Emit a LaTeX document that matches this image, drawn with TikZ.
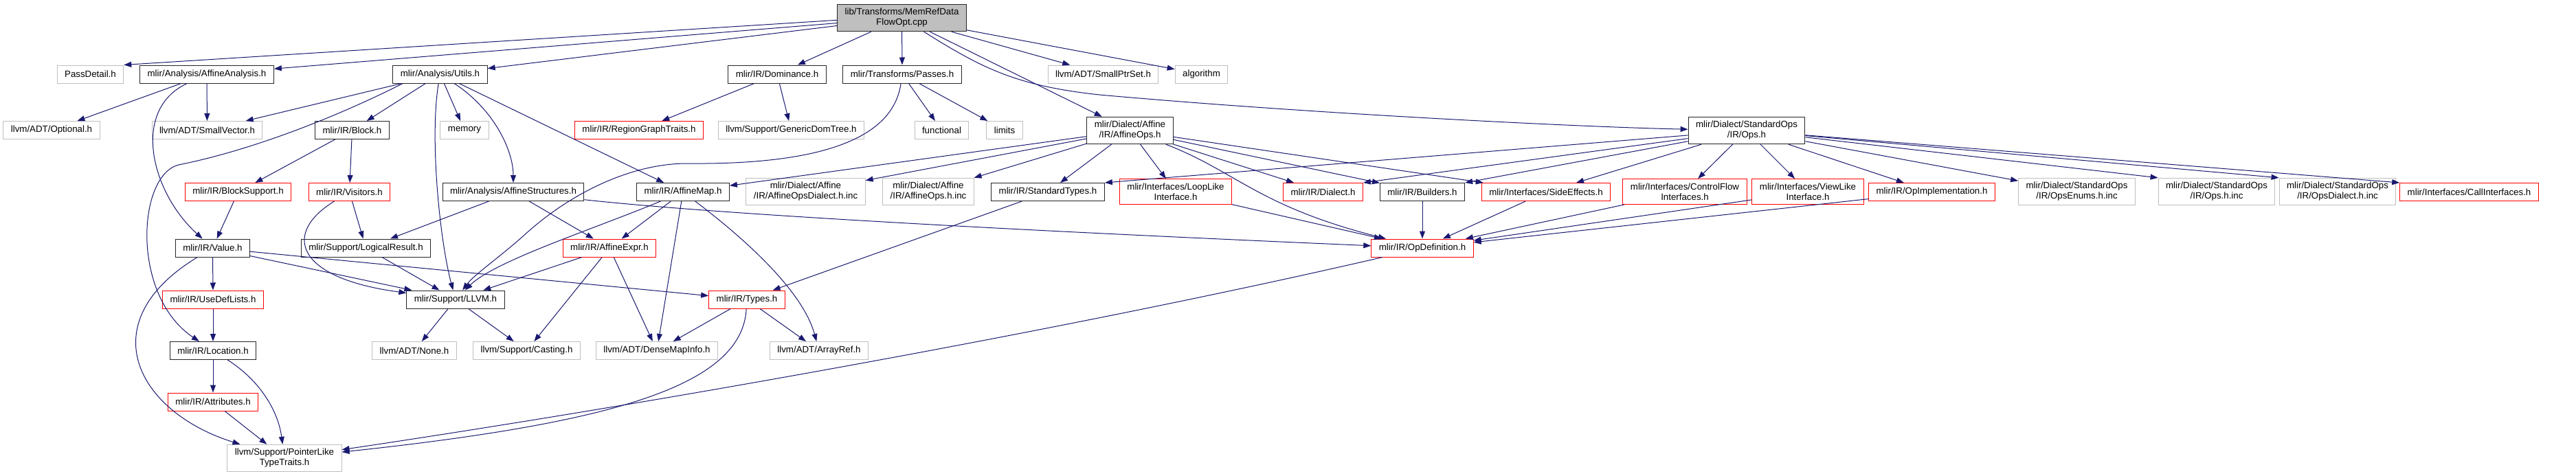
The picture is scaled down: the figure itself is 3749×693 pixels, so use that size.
\documentclass[tikz,border=0pt]{standalone}
\usepackage{fontspec}
\setmainfont{Liberation Sans}
\usepackage{xcolor}
\definecolor{depBlue}{HTML}{191970}
\definecolor{extGray}{HTML}{BFBFBF}
\definecolor{cutRed}{HTML}{FF0000}
\usepackage{tikz}
\usetikzlibrary{arrows.meta}

\begin{document}
\begin{tikzpicture}[x=1pt, y=-1pt, >={Triangle[length=11pt,width=8pt]},
  hfile/.style={draw, line width=1pt, inner xsep=11pt, inner ysep=6pt,
    minimum height=26pt, align=center, font=\fontsize{13.3}{15}\selectfont},
  docd/.style={hfile, draw=black!85},
  ext/.style={hfile, draw=extGray},
  cut/.style={hfile, draw=cutRed},
  dep/.style={->, depBlue, line width=1pt}]
  \useasboundingbox (0,0) rectangle (3749,693);

  % ---- the file itself ----
  \node[hfile, draw=black!85, fill=extGray] (root) at (1312.5,26) {lib/Transforms/MemRefData\\FlowOpt.cpp};

  % ---- direct includes ----
  \node[ext]  (passdetail) at (131.5,108) {PassDetail.h};
  \node[docd] (affana)     at (301,108)   {mlir/Analysis/AffineAnalysis.h};
  \node[docd] (utils)      at (640.5,108) {mlir/Analysis/Utils.h};
  \node[docd] (dominance)  at (1131,108)  {mlir/IR/Dominance.h};
  \node[docd] (passes)     at (1313,108)  {mlir/Transforms/Passes.h};
  \node[ext]  (smallptrset) at (1605.5,108) {llvm/ADT/SmallPtrSet.h};
  \node[ext]  (algorithm)  at (1748.5,108) {algorithm};

  % ---- second level ----
  \node[ext]  (optional)    at (75,189.5)    {llvm/ADT/Optional.h};
  \node[ext]  (smallvector) at (301.5,189.5) {llvm/ADT/SmallVector.h};
  \node[docd] (block)       at (512.5,189.5) {mlir/IR/Block.h};
  \node[ext]  (memory)      at (676,189.5)   {memory};
  \node[cut]  (regiongraph) at (930,189.5)   {mlir/IR/RegionGraphTraits.h};
  \node[ext]  (gendomtree)  at (1151.5,189.5) {llvm/Support/GenericDomTree.h};
  \node[ext]  (functional)  at (1370.5,189.5) {functional};
  \node[ext]  (limits)      at (1462,189.5)  {limits};
  \node[docd] (affineops)   at (1644.5,190)  {mlir/Dialect/Affine\\/IR/AffineOps.h};
  \node[docd] (stdops)      at (2542,190)    {mlir/Dialect/StandardOps\\/IR/Ops.h};

  % ---- third level ----
  \node[cut]  (blocksupport) at (346.5,279.5) {mlir/IR/BlockSupport.h};
  \node[cut]  (visitors)     at (508.5,279.5) {mlir/IR/Visitors.h};
  \node[docd] (affstruct)    at (747,279.5)   {mlir/Analysis/AffineStructures.h};
  \node[docd] (affinemap)    at (994,279.5)   {mlir/IR/AffineMap.h};
  \node[ext]  (affdialectinc) at (1172.5,279) {mlir/Dialect/Affine\\/IR/AffineOpsDialect.h.inc};
  \node[ext]  (affopsinc)    at (1351,279)    {mlir/Dialect/Affine\\/IR/AffineOps.h.inc};
  \node[docd] (stdtypes)     at (1525,279.5)  {mlir/IR/StandardTypes.h};
  \node[cut]  (looplike)     at (1711,279)    {mlir/Interfaces/LoopLike\\Interface.h};
  \node[cut]  (dialect)      at (1925.5,279.5) {mlir/IR/Dialect.h};
  \node[docd] (builders)     at (2070,279.5)  {mlir/IR/Builders.h};
  \node[cut]  (sideeffects)  at (2250,279.5)  {mlir/Interfaces/SideEffects.h};
  \node[cut]  (controlflow)  at (2452,279)    {mlir/Interfaces/ControlFlow\\Interfaces.h};
  \node[cut]  (viewlike)     at (2631,279)    {mlir/Interfaces/ViewLike\\Interface.h};
  \node[cut]  (opimpl)       at (2811.5,279.5) {mlir/IR/OpImplementation.h};
  \node[ext]  (opsenums)     at (3022.5,279)  {mlir/Dialect/StandardOps\\/IR/OpsEnums.h.inc};
  \node[ext]  (opsinc)       at (3226,279)    {mlir/Dialect/StandardOps\\/IR/Ops.h.inc};
  \node[ext]  (opsdialectinc) at (3402,279)   {mlir/Dialect/StandardOps\\/IR/OpsDialect.h.inc};
  \node[cut]  (callif)       at (3593.5,279.5) {mlir/Interfaces/CallInterfaces.h};

  % ---- lower levels ----
  \node[docd] (value)    at (309.5,361) {mlir/IR/Value.h};
  \node[docd] (logical)  at (532.5,361) {mlir/Support/LogicalResult.h};
  \node[cut]  (affexpr)  at (887,361)   {mlir/IR/AffineExpr.h};
  \node[cut]  (opdef)    at (2070,361)  {mlir/IR/OpDefinition.h};
  \node[cut]  (usedef)   at (310,436)   {mlir/IR/UseDefLists.h};
  \node[docd] (llvm)     at (663,436)   {mlir/Support/LLVM.h};
  \node[cut]  (types)    at (1087,436)  {mlir/IR/Types.h};
  \node[docd] (location) at (310,510.5) {mlir/IR/Location.h};
  \node[ext]  (none)     at (603,510.5) {llvm/ADT/None.h};
  \node[ext]  (casting)  at (766.5,510.5) {llvm/Support/Casting.h};
  \node[ext]  (densemap) at (956,510.5) {llvm/ADT/DenseMapInfo.h};
  \node[ext]  (arrayref) at (1192,510.5) {llvm/ADT/ArrayRef.h};
  \node[cut]  (attributes) at (310,585) {mlir/IR/Attributes.h};
  \node[ext]  (pointerlike) at (414,667) {llvm/Support/PointerLike\\TypeTraits.h};

  % ---- edges from the file ----
  \draw[dep] (root.182) -- (passdetail.north east);
  \draw[dep] (root) -- (affana);
  \draw[dep] (root) -- (utils);
  \draw[dep] (root) -- (dominance);
  \draw[dep] (root) -- (passes);
  \draw[dep] (root) -- (affineops);
  \draw[dep] (root) .. controls (1430,100) and (1480,125) .. (1600,138)
    .. controls (1900,165) and (2300,185) .. (stdops);
  \draw[dep] (root) -- (smallptrset);
  \draw[dep] (root) -- (algorithm);

  % ---- analysis headers ----
  \draw[dep] (affana) -- (optional);
  \draw[dep] (affana) -- (smallvector);
  \draw[dep] (affana) .. controls (190,160) and (220,280) .. (value);
  \draw[dep] (utils) -- (smallvector);
  \draw[dep] (utils) -- (block);
  \draw[dep] (utils.194) .. controls (480,175) and (360,220) .. (260,240)
    .. controls (200,255) and (190,430) .. (location);
  \draw[dep] (utils) .. controls (625,200) and (640,350) .. (llvm);
  \draw[dep] (utils) -- (memory);
  \draw[dep] (utils) .. controls (720,160) and (747,220) .. (affstruct);
  \draw[dep] (utils) -- (affinemap);
  \draw[dep] (block) -- (blocksupport);
  \draw[dep] (block) -- (visitors);
  \draw[dep] (blocksupport) -- (value);
  \draw[dep] (visitors) -- (logical);
  \draw[dep] (visitors) .. controls (410,340) and (430,405) .. (llvm);
  \draw[dep] (affstruct) -- (logical);
  \draw[dep] (affstruct) -- (affexpr);
  \draw[dep] (affstruct) .. controls (1100,318) and (1700,345) .. (opdef);

  % ---- IR core ----
  \draw[dep] (value) -- (usedef);
  \draw[dep] (value) .. controls (130,470) and (200,600) .. (pointerlike);
  \draw[dep] (value) -- (llvm);
  \draw[dep] (value) -- (types);
  \draw[dep] (logical) -- (llvm);
  \draw[dep] (usedef) -- (location);
  \draw[dep] (location) -- (attributes);
  \draw[dep] (location) .. controls (380,555) and (405,600) .. (pointerlike);
  \draw[dep] (attributes) -- (pointerlike);
  \draw[dep] (llvm) -- (none);
  \draw[dep] (llvm) -- (casting);
  \draw[dep] (affinemap) -- (affexpr);
  \draw[dep] (affinemap) .. controls (860,335) and (720,380) .. (llvm);
  \draw[dep] (affinemap) -- (densemap);
  \draw[dep] (affinemap) .. controls (1100,360) and (1170,430) .. (arrayref);
  \draw[dep] (affexpr) -- (llvm);
  \draw[dep] (affexpr) -- (casting);
  \draw[dep] (affexpr) -- (densemap);
  \draw[dep] (types) -- (densemap);
  \draw[dep] (types) -- (arrayref);
  \draw[dep] (types) .. controls (1080,560) and (900,615) .. (pointerlike);
  \draw[dep] (stdtypes) -- (types);
  \draw[dep] (opdef) .. controls (1600,470) and (1000,580) .. (pointerlike);
  \draw[dep] (dominance) -- (regiongraph);
  \draw[dep] (dominance) -- (gendomtree);
  \draw[dep] (passes) -- (functional);
  \draw[dep] (passes) -- (limits);
  \draw[dep] (passes) .. controls (1300,200) and (1200,240) .. (1000,238)
    .. controls (920,238) and (830,280) .. (760,345)
    .. controls (720,380) and (690,400) .. (llvm);

  % ---- dialect ops ----
  \draw[dep] (affineops) -- (affdialectinc);
  \draw[dep] (affineops) -- (affopsinc);
  \draw[dep] (affineops) -- (stdtypes);
  \draw[dep] (affineops) -- (looplike);
  \draw[dep] (affineops) -- (affinemap);
  \draw[dep] (affineops) -- (dialect);
  \draw[dep] (affineops) -- (builders);
  \draw[dep] (affineops) -- (sideeffects);
  \draw[dep] (affineops) .. controls (1800,250) and (1830,300) .. (opdef);
  \foreach \dst in {stdtypes,dialect,builders}
    \draw[dep] (stdops) -- (\dst.north east);
  \foreach \dst in {sideeffects,controlflow,viewlike,opimpl,opsenums}
    \draw[dep] (stdops) -- (\dst);
  \foreach \dst in {opsinc,opsdialectinc,callif}
    \draw[dep] (stdops) -- (\dst.north west);
  \foreach \src in {looplike,builders,sideeffects,controlflow,viewlike,opimpl}
    \draw[dep] (\src) -- (opdef);
\end{tikzpicture}
\end{document}
